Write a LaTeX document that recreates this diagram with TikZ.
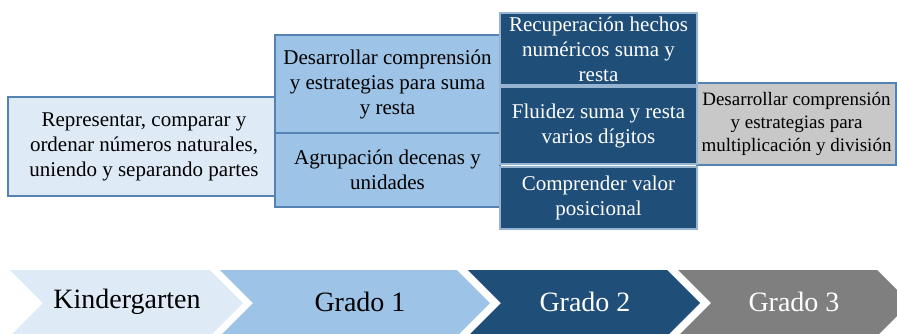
\documentclass[tikz,border=0pt]{standalone}
\usepackage{fontspec}
\setmainfont{Liberation Serif}
\definecolor{kinder}{RGB}{222,235,247}
\definecolor{gradeone}{RGB}{157,195,230}
\definecolor{gradetwo}{RGB}{31,78,121}
\definecolor{gradethree}{RGB}{127,127,127}
\definecolor{greybox}{RGB}{200,200,200}
\definecolor{boxline}{RGB}{84,130,178}
\definecolor{paleline}{RGB}{150,180,210}

\begin{document}
\begin{tikzpicture}[x=1pt,y=-1pt]
        \tikzstyle{goal}=[draw=boxline,line width=1.2pt,align=center,inner sep=0pt,font=\fontsize{21}{25}\selectfont]
        \tikzstyle{darkgoal}=[goal,draw=paleline,fill=gradetwo,text=white]
        \tikzstyle{grade}=[font=\fontsize{28}{32}\selectfont]
        \useasboundingbox (0,0) rectangle (897,333);
       \begin{scope}
         % boxes
         \node [goal,fill=kinder,minimum width=272pt,minimum height=99pt] (k1) at (144,146.5) {Representar, comparar y\\ordenar números naturales,\\uniendo y separando partes};
         \node [goal,fill=greybox,minimum width=199pt,minimum height=82pt,font=\fontsize{19}{23}\selectfont] (g3a) at (796.5,124) {Desarrollar comprensión\\y estrategias para\\multiplicación y división};
         \node [goal,fill=gradeone,minimum width=225pt,minimum height=98pt] (g1a) at (387.5,84) {Desarrollar comprensión\\y estrategias para suma\\y resta};
         \node [goal,fill=gradeone,minimum width=225pt,minimum height=74pt] (g1b) at (387.5,170) {Agrupación decenas y\\unidades};
         \node [darkgoal,minimum width=197pt,minimum height=72pt] (g2a) at (598.5,49) {Recuperación hechos\\numéricos suma y\\resta};
         \node [darkgoal,minimum width=197pt,minimum height=77pt] (g2b) at (598.5,125.5) {Fluidez suma y resta\\varios dígitos};
         \node [darkgoal,minimum width=197pt,minimum height=62pt] (g2c) at (598.5,198) {Comprender valor\\posicional};
        \end{scope}
       \begin{scope}
         % timeline
         \fill [kinder] (10,270) -- (210,270) -- (243,303) -- (210,336) -- (10,336) -- (43,303) -- cycle;
         \fill [gradeone] (220,270) -- (457,270) -- (490,303) -- (457,336) -- (220,336) -- (253,303) -- cycle;
         \fill [gradetwo] (468,270) -- (667,270) -- (700,303) -- (667,336) -- (468,336) -- (501,303) -- cycle;
         \fill [gradethree] (678,270) -- (877,270) -- (910,303) -- (877,336) -- (678,336) -- (711,303) -- cycle;
         \node [grade] (kin) at (127,302) {Kindergarten};
         \node [grade] (gr1) at (360,302) {Grado 1};
         \node [grade,text=white] (gr2) at (585,302) {Grado 2};
         \node [grade,text=white] (gr3) at (794,302) {Grado 3};
        \end{scope}
      \end{tikzpicture}
\end{document}
